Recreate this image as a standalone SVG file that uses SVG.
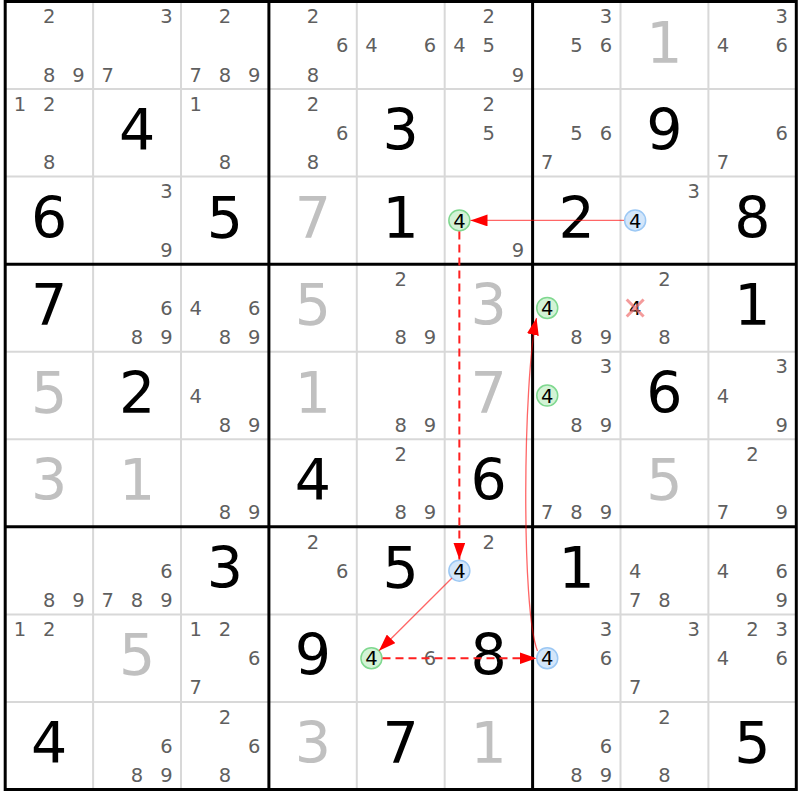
<svg xmlns="http://www.w3.org/2000/svg" width="800" height="800" viewBox="0 0 800 800">
<style>
text{font-family:"DejaVu Sans","Liberation Sans",sans-serif}
.c{font-size:19.5px;fill:#5f5f5f;text-anchor:middle}
.k{font-size:19.5px;fill:#000;text-anchor:middle}
.b{font-size:57px;fill:#000;text-anchor:middle}
.g{font-size:57px;fill:#c0c0c0;text-anchor:middle}
.thin{stroke:#d8d8d8;stroke-width:2}
.thick{stroke:#000;stroke-width:3}
.hg{fill:#d3f3d6;stroke:#7fd88f;stroke-width:1.5}
.hb{fill:#d3e6fa;stroke:#9cc8f4;stroke-width:1.5}
.solid{fill:none;stroke:#ff0000;stroke-opacity:0.6;stroke-width:1.3}
.dash{fill:none;stroke:#ff2020;stroke-width:2;stroke-dasharray:8,5}
</style>
<defs>
<marker id="ah" markerUnits="userSpaceOnUse" markerWidth="18" markerHeight="12" refX="17" refY="6" orient="auto">
<path d="M0,0 L17,6 L0,12 z" fill="#ff0000"/>
</marker>
</defs>
<rect x="0" y="0" width="800" height="800" fill="#fff"/>
<g id="grid">
<g class="thin">
<line x1="93.1" y1="1.5" x2="93.1" y2="789.5"/><line x1="181" y1="1.5" x2="181" y2="789.5"/>
<line x1="356.8" y1="1.5" x2="356.8" y2="789.5"/><line x1="444.7" y1="1.5" x2="444.7" y2="789.5"/>
<line x1="620.5" y1="1.5" x2="620.5" y2="789.5"/><line x1="708.4" y1="1.5" x2="708.4" y2="789.5"/>
<line x1="5.2" y1="89.06" x2="796.3" y2="89.06"/><line x1="5.2" y1="176.62" x2="796.3" y2="176.62"/>
<line x1="5.2" y1="351.73" x2="796.3" y2="351.73"/><line x1="5.2" y1="439.28" x2="796.3" y2="439.28"/>
<line x1="5.2" y1="614.39" x2="796.3" y2="614.39"/><line x1="5.2" y1="701.95" x2="796.3" y2="701.95"/>
</g>
<g class="thick">
<line x1="268.9" y1="1.5" x2="268.9" y2="789.5"/><line x1="532.6" y1="1.5" x2="532.6" y2="789.5"/>
<line x1="5.2" y1="264.17" x2="796.3" y2="264.17"/><line x1="5.2" y1="526.84" x2="796.3" y2="526.84"/>
<rect x="5.2" y="1.5" width="791.1" height="788" fill="none"/>
</g>
</g>
<!-- row 0 -->
<g id="r0c0" transform="translate(5.2,1.5)"><text class="c" x="43.95" y="21.7">2</text><text class="c" x="43.95" y="80.1">8</text><text class="c" x="73.25" y="80.1">9</text></g>
<g id="r0c1" transform="translate(93.1,1.5)"><text class="c" x="73.25" y="21.7">3</text><text class="c" x="14.65" y="80.1">7</text></g>
<g id="r0c2" transform="translate(181,1.5)"><text class="c" x="43.95" y="21.7">2</text><text class="c" x="14.65" y="80.1">7</text><text class="c" x="43.95" y="80.1">8</text><text class="c" x="73.25" y="80.1">9</text></g>
<g id="r0c3" transform="translate(268.9,1.5)"><text class="c" x="43.95" y="21.7">2</text><text class="c" x="73.25" y="50.9">6</text><text class="c" x="43.95" y="80.1">8</text></g>
<g id="r0c4" transform="translate(356.8,1.5)"><text class="c" x="14.65" y="50.9">4</text><text class="c" x="73.25" y="50.9">6</text></g>
<g id="r0c5" transform="translate(444.7,1.5)"><text class="c" x="43.95" y="21.7">2</text><text class="c" x="14.65" y="50.9">4</text><text class="c" x="43.95" y="50.9">5</text><text class="c" x="73.25" y="80.1">9</text></g>
<g id="r0c6" transform="translate(532.6,1.5)"><text class="c" x="73.25" y="21.7">3</text><text class="c" x="43.95" y="50.9">5</text><text class="c" x="73.25" y="50.9">6</text></g>
<g id="r0c7" transform="translate(620.5,1.5)"><text class="g" x="43.95" y="61">1</text></g>
<g id="r0c8" transform="translate(708.4,1.5)"><text class="c" x="73.25" y="21.7">3</text><text class="c" x="14.65" y="50.9">4</text><text class="c" x="73.25" y="50.9">6</text></g>
<!-- row 1 -->
<g id="r1c0" transform="translate(5.2,89.06)"><text class="c" x="14.65" y="21.7">1</text><text class="c" x="43.95" y="21.7">2</text><text class="c" x="43.95" y="80.1">8</text></g>
<g id="r1c1" transform="translate(93.1,89.06)"><text class="b" x="43.95" y="61">4</text></g>
<g id="r1c2" transform="translate(181,89.06)"><text class="c" x="14.65" y="21.7">1</text><text class="c" x="43.95" y="80.1">8</text></g>
<g id="r1c3" transform="translate(268.9,89.06)"><text class="c" x="43.95" y="21.7">2</text><text class="c" x="73.25" y="50.9">6</text><text class="c" x="43.95" y="80.1">8</text></g>
<g id="r1c4" transform="translate(356.8,89.06)"><text class="b" x="43.95" y="61">3</text></g>
<g id="r1c5" transform="translate(444.7,89.06)"><text class="c" x="43.95" y="21.7">2</text><text class="c" x="43.95" y="50.9">5</text></g>
<g id="r1c6" transform="translate(532.6,89.06)"><text class="c" x="43.95" y="50.9">5</text><text class="c" x="73.25" y="50.9">6</text><text class="c" x="14.65" y="80.1">7</text></g>
<g id="r1c7" transform="translate(620.5,89.06)"><text class="b" x="43.95" y="61">9</text></g>
<g id="r1c8" transform="translate(708.4,89.06)"><text class="c" x="73.25" y="50.9">6</text><text class="c" x="14.65" y="80.1">7</text></g>
<!-- row 2 -->
<g id="r2c0" transform="translate(5.2,176.62)"><text class="b" x="43.95" y="61">6</text></g>
<g id="r2c1" transform="translate(93.1,176.62)"><text class="c" x="73.25" y="21.7">3</text><text class="c" x="73.25" y="80.1">9</text></g>
<g id="r2c2" transform="translate(181,176.62)"><text class="b" x="43.95" y="61">5</text></g>
<g id="r2c3" transform="translate(268.9,176.62)"><text class="g" x="43.95" y="61">7</text></g>
<g id="r2c4" transform="translate(356.8,176.62)"><text class="b" x="43.95" y="61">1</text></g>
<g id="r2c5" transform="translate(444.7,176.62)"><circle class="hg" cx="14.65" cy="43.8" r="10.5"/><text class="k" x="14.65" y="50.9">4</text><text class="c" x="73.25" y="80.1">9</text></g>
<g id="r2c6" transform="translate(532.6,176.62)"><text class="b" x="43.95" y="61">2</text></g>
<g id="r2c7" transform="translate(620.5,176.62)"><text class="c" x="73.25" y="21.7">3</text><circle class="hb" cx="14.65" cy="43.8" r="10.5"/><text class="k" x="14.65" y="50.9">4</text></g>
<g id="r2c8" transform="translate(708.4,176.62)"><text class="b" x="43.95" y="61">8</text></g>
<!-- row 3 -->
<g id="r3c0" transform="translate(5.2,264.17)"><text class="b" x="43.95" y="61">7</text></g>
<g id="r3c1" transform="translate(93.1,264.17)"><text class="c" x="73.25" y="50.9">6</text><text class="c" x="43.95" y="80.1">8</text><text class="c" x="73.25" y="80.1">9</text></g>
<g id="r3c2" transform="translate(181,264.17)"><text class="c" x="14.65" y="50.9">4</text><text class="c" x="73.25" y="50.9">6</text><text class="c" x="43.95" y="80.1">8</text><text class="c" x="73.25" y="80.1">9</text></g>
<g id="r3c3" transform="translate(268.9,264.17)"><text class="g" x="43.95" y="61">5</text></g>
<g id="r3c4" transform="translate(356.8,264.17)"><text class="c" x="43.95" y="21.7">2</text><text class="c" x="43.95" y="80.1">8</text><text class="c" x="73.25" y="80.1">9</text></g>
<g id="r3c5" transform="translate(444.7,264.17)"><text class="g" x="43.95" y="61">3</text></g>
<g id="r3c6" transform="translate(532.6,264.17)"><circle class="hg" cx="14.65" cy="43.8" r="10.5"/><text class="k" x="14.65" y="50.9">4</text><text class="c" x="43.95" y="80.1">8</text><text class="c" x="73.25" y="80.1">9</text></g>
<g id="r3c7" transform="translate(620.5,264.17)"><text class="c" x="43.95" y="21.7">2</text><text class="k" x="14.65" y="50.9">4</text><path d="M6.2,35.3 L23.1,52.3 M23.1,35.3 L6.2,52.3" stroke="#f07070" stroke-opacity="0.7" stroke-width="3"/><text class="c" x="43.95" y="80.1">8</text></g>
<g id="r3c8" transform="translate(708.4,264.17)"><text class="b" x="43.95" y="61">1</text></g>
<!-- row 4 -->
<g id="r4c0" transform="translate(5.2,351.73)"><text class="g" x="43.95" y="61">5</text></g>
<g id="r4c1" transform="translate(93.1,351.73)"><text class="b" x="43.95" y="61">2</text></g>
<g id="r4c2" transform="translate(181,351.73)"><text class="c" x="14.65" y="50.9">4</text><text class="c" x="43.95" y="80.1">8</text><text class="c" x="73.25" y="80.1">9</text></g>
<g id="r4c3" transform="translate(268.9,351.73)"><text class="g" x="43.95" y="61">1</text></g>
<g id="r4c4" transform="translate(356.8,351.73)"><text class="c" x="43.95" y="80.1">8</text><text class="c" x="73.25" y="80.1">9</text></g>
<g id="r4c5" transform="translate(444.7,351.73)"><text class="g" x="43.95" y="61">7</text></g>
<g id="r4c6" transform="translate(532.6,351.73)"><text class="c" x="73.25" y="21.7">3</text><circle class="hg" cx="14.65" cy="43.8" r="10.5"/><text class="k" x="14.65" y="50.9">4</text><text class="c" x="43.95" y="80.1">8</text><text class="c" x="73.25" y="80.1">9</text></g>
<g id="r4c7" transform="translate(620.5,351.73)"><text class="b" x="43.95" y="61">6</text></g>
<g id="r4c8" transform="translate(708.4,351.73)"><text class="c" x="73.25" y="21.7">3</text><text class="c" x="14.65" y="50.9">4</text><text class="c" x="73.25" y="80.1">9</text></g>
<!-- row 5 -->
<g id="r5c0" transform="translate(5.2,439.28)"><text class="g" x="43.95" y="61">3</text></g>
<g id="r5c1" transform="translate(93.1,439.28)"><text class="g" x="43.95" y="61">1</text></g>
<g id="r5c2" transform="translate(181,439.28)"><text class="c" x="43.95" y="80.1">8</text><text class="c" x="73.25" y="80.1">9</text></g>
<g id="r5c3" transform="translate(268.9,439.28)"><text class="b" x="43.95" y="61">4</text></g>
<g id="r5c4" transform="translate(356.8,439.28)"><text class="c" x="43.95" y="21.7">2</text><text class="c" x="43.95" y="80.1">8</text><text class="c" x="73.25" y="80.1">9</text></g>
<g id="r5c5" transform="translate(444.7,439.28)"><text class="b" x="43.95" y="61">6</text></g>
<g id="r5c6" transform="translate(532.6,439.28)"><text class="c" x="14.65" y="80.1">7</text><text class="c" x="43.95" y="80.1">8</text><text class="c" x="73.25" y="80.1">9</text></g>
<g id="r5c7" transform="translate(620.5,439.28)"><text class="g" x="43.95" y="61">5</text></g>
<g id="r5c8" transform="translate(708.4,439.28)"><text class="c" x="43.95" y="21.7">2</text><text class="c" x="14.65" y="80.1">7</text><text class="c" x="73.25" y="80.1">9</text></g>
<!-- row 6 -->
<g id="r6c0" transform="translate(5.2,526.84)"><text class="c" x="43.95" y="80.1">8</text><text class="c" x="73.25" y="80.1">9</text></g>
<g id="r6c1" transform="translate(93.1,526.84)"><text class="c" x="73.25" y="50.9">6</text><text class="c" x="14.65" y="80.1">7</text><text class="c" x="43.95" y="80.1">8</text><text class="c" x="73.25" y="80.1">9</text></g>
<g id="r6c2" transform="translate(181,526.84)"><text class="b" x="43.95" y="61">3</text></g>
<g id="r6c3" transform="translate(268.9,526.84)"><text class="c" x="43.95" y="21.7">2</text><text class="c" x="73.25" y="50.9">6</text></g>
<g id="r6c4" transform="translate(356.8,526.84)"><text class="b" x="43.95" y="61">5</text></g>
<g id="r6c5" transform="translate(444.7,526.84)"><text class="c" x="43.95" y="21.7">2</text><circle class="hb" cx="14.65" cy="43.8" r="10.5"/><text class="k" x="14.65" y="50.9">4</text></g>
<g id="r6c6" transform="translate(532.6,526.84)"><text class="b" x="43.95" y="61">1</text></g>
<g id="r6c7" transform="translate(620.5,526.84)"><text class="c" x="14.65" y="50.9">4</text><text class="c" x="14.65" y="80.1">7</text><text class="c" x="43.95" y="80.1">8</text></g>
<g id="r6c8" transform="translate(708.4,526.84)"><text class="c" x="14.65" y="50.9">4</text><text class="c" x="73.25" y="50.9">6</text><text class="c" x="73.25" y="80.1">9</text></g>
<!-- row 7 -->
<g id="r7c0" transform="translate(5.2,614.39)"><text class="c" x="14.65" y="21.7">1</text><text class="c" x="43.95" y="21.7">2</text></g>
<g id="r7c1" transform="translate(93.1,614.39)"><text class="g" x="43.95" y="61">5</text></g>
<g id="r7c2" transform="translate(181,614.39)"><text class="c" x="14.65" y="21.7">1</text><text class="c" x="43.95" y="21.7">2</text><text class="c" x="73.25" y="50.9">6</text><text class="c" x="14.65" y="80.1">7</text></g>
<g id="r7c3" transform="translate(268.9,614.39)"><text class="b" x="43.95" y="61">9</text></g>
<g id="r7c4" transform="translate(356.8,614.39)"><circle class="hg" cx="14.65" cy="43.8" r="10.5"/><text class="k" x="14.65" y="50.9">4</text><text class="c" x="73.25" y="50.9">6</text></g>
<g id="r7c5" transform="translate(444.7,614.39)"><text class="b" x="43.95" y="61">8</text></g>
<g id="r7c6" transform="translate(532.6,614.39)"><text class="c" x="73.25" y="21.7">3</text><circle class="hb" cx="14.65" cy="43.8" r="10.5"/><text class="k" x="14.65" y="50.9">4</text><text class="c" x="73.25" y="50.9">6</text></g>
<g id="r7c7" transform="translate(620.5,614.39)"><text class="c" x="73.25" y="21.7">3</text><text class="c" x="14.65" y="80.1">7</text></g>
<g id="r7c8" transform="translate(708.4,614.39)"><text class="c" x="43.95" y="21.7">2</text><text class="c" x="73.25" y="21.7">3</text><text class="c" x="14.65" y="50.9">4</text><text class="c" x="73.25" y="50.9">6</text></g>
<!-- row 8 -->
<g id="r8c0" transform="translate(5.2,701.95)"><text class="b" x="43.95" y="61">4</text></g>
<g id="r8c1" transform="translate(93.1,701.95)"><text class="c" x="73.25" y="50.9">6</text><text class="c" x="43.95" y="80.1">8</text><text class="c" x="73.25" y="80.1">9</text></g>
<g id="r8c2" transform="translate(181,701.95)"><text class="c" x="43.95" y="21.7">2</text><text class="c" x="73.25" y="50.9">6</text><text class="c" x="43.95" y="80.1">8</text></g>
<g id="r8c3" transform="translate(268.9,701.95)"><text class="g" x="43.95" y="61">3</text></g>
<g id="r8c4" transform="translate(356.8,701.95)"><text class="b" x="43.95" y="61">7</text></g>
<g id="r8c5" transform="translate(444.7,701.95)"><text class="g" x="43.95" y="61">1</text></g>
<g id="r8c6" transform="translate(532.6,701.95)"><text class="c" x="73.25" y="50.9">6</text><text class="c" x="43.95" y="80.1">8</text><text class="c" x="73.25" y="80.1">9</text></g>
<g id="r8c7" transform="translate(620.5,701.95)"><text class="c" x="43.95" y="21.7">2</text><text class="c" x="43.95" y="80.1">8</text></g>
<g id="r8c8" transform="translate(708.4,701.95)"><text class="b" x="43.95" y="61">5</text></g>
<g id="connectors">
<line class="solid" x1="624" y1="220.4" x2="470.5" y2="220.4" marker-end="url(#ah)"/>
<line class="dash" x1="459.35" y1="231.5" x2="459.35" y2="559.5" marker-end="url(#ah)"/>
<line class="solid" x1="452" y1="578" x2="379" y2="650.8" marker-end="url(#ah)"/>
<line class="dash" x1="382.5" y1="658.2" x2="536.5" y2="658.2" marker-end="url(#ah)"/>
<path class="solid" d="M537.5,651 C521,610 523,380 536.5,318" marker-end="url(#ah)"/>
</g>
</svg>
